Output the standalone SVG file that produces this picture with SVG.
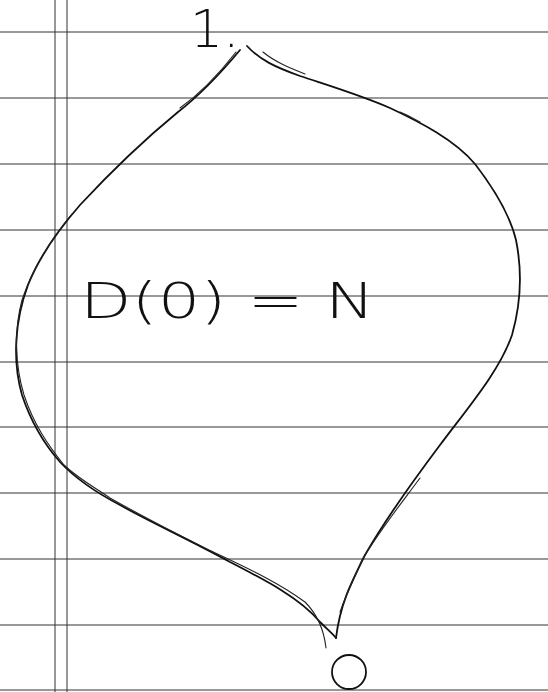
<svg xmlns="http://www.w3.org/2000/svg" width="548" height="692" viewBox="0 0 548 692">
<style>
.rule{stroke:#333;stroke-width:1}
.ink{fill:none;stroke:#111;stroke-width:1.8;stroke-linecap:round;stroke-linejoin:round}
.thin{fill:none;stroke:#222;stroke-width:1.1;stroke-linecap:round}
.hand{font-family:"DejaVu Sans",Lato,"Liberation Sans",sans-serif;font-weight:200;fill:#111}
</style>
<rect width="548" height="692" fill="#fff"/>
<g id="paper">
<line class="rule" x1="0" y1="32" x2="548" y2="32"/>
<line class="rule" x1="0" y1="98" x2="548" y2="98"/>
<line class="rule" x1="0" y1="164" x2="548" y2="164"/>
<line class="rule" x1="0" y1="230" x2="548" y2="230"/>
<line class="rule" x1="0" y1="296" x2="548" y2="296"/>
<line class="rule" x1="0" y1="362" x2="548" y2="362"/>
<line class="rule" x1="0" y1="427" x2="548" y2="427"/>
<line class="rule" x1="0" y1="493" x2="548" y2="493"/>
<line class="rule" x1="0" y1="559" x2="548" y2="559"/>
<line class="rule" x1="0" y1="625" x2="548" y2="625"/>
<line class="rule" x1="0" y1="690" x2="548" y2="690"/>
<line class="rule" x1="55" y1="0" x2="55" y2="692"/>
<line class="rule" x1="67" y1="0" x2="67" y2="692"/>
</g>
<g id="shape">
<path class="ink" d="M247,46 C260,60 275,67 300,76 C330,86 360,95 390,108 C420,122 455,140 475,164 C495,190 510,215 516,240 C522,270 522,300 512,335 C500,370 470,405 440,445 C410,485 385,520 365,555 C350,585 340,605 336,638"/>
<path class="thin" d="M263,52 C275,62 290,68 305,74 M400,112 C410,116 416,120 420,122 M340,612 C348,590 356,575 362,560 C380,530 400,505 420,478"/>
<path class="ink" d="M240,50 C225,68 200,95 178,112 C150,135 120,162 80,205 C60,228 40,255 28,285 C15,320 12,360 22,395 C32,425 45,445 60,462 C75,478 95,492 120,505 C150,522 190,540 230,562 C265,580 300,598 320,622 C328,630 333,634 336,638"/>
<path class="thin" d="M236,52 C222,70 205,90 180,108 M72,214 C50,240 32,270 22,300 C14,330 15,365 24,395 C34,425 48,445 64,465 C80,480 96,488 110,498 C140,515 165,528 205,548 C240,565 275,580 305,602 C318,615 324,630 326,648"/>
</g>
<g id="labels">
<text class="hand" x="190" y="47" font-size="52">1.</text>
<text class="hand" x="80" y="318" font-size="50" textLength="295" lengthAdjust="spacingAndGlyphs">D(0) = N</text>
<ellipse class="ink" cx="349" cy="672" rx="17" ry="17"/>
</g>
</svg>
